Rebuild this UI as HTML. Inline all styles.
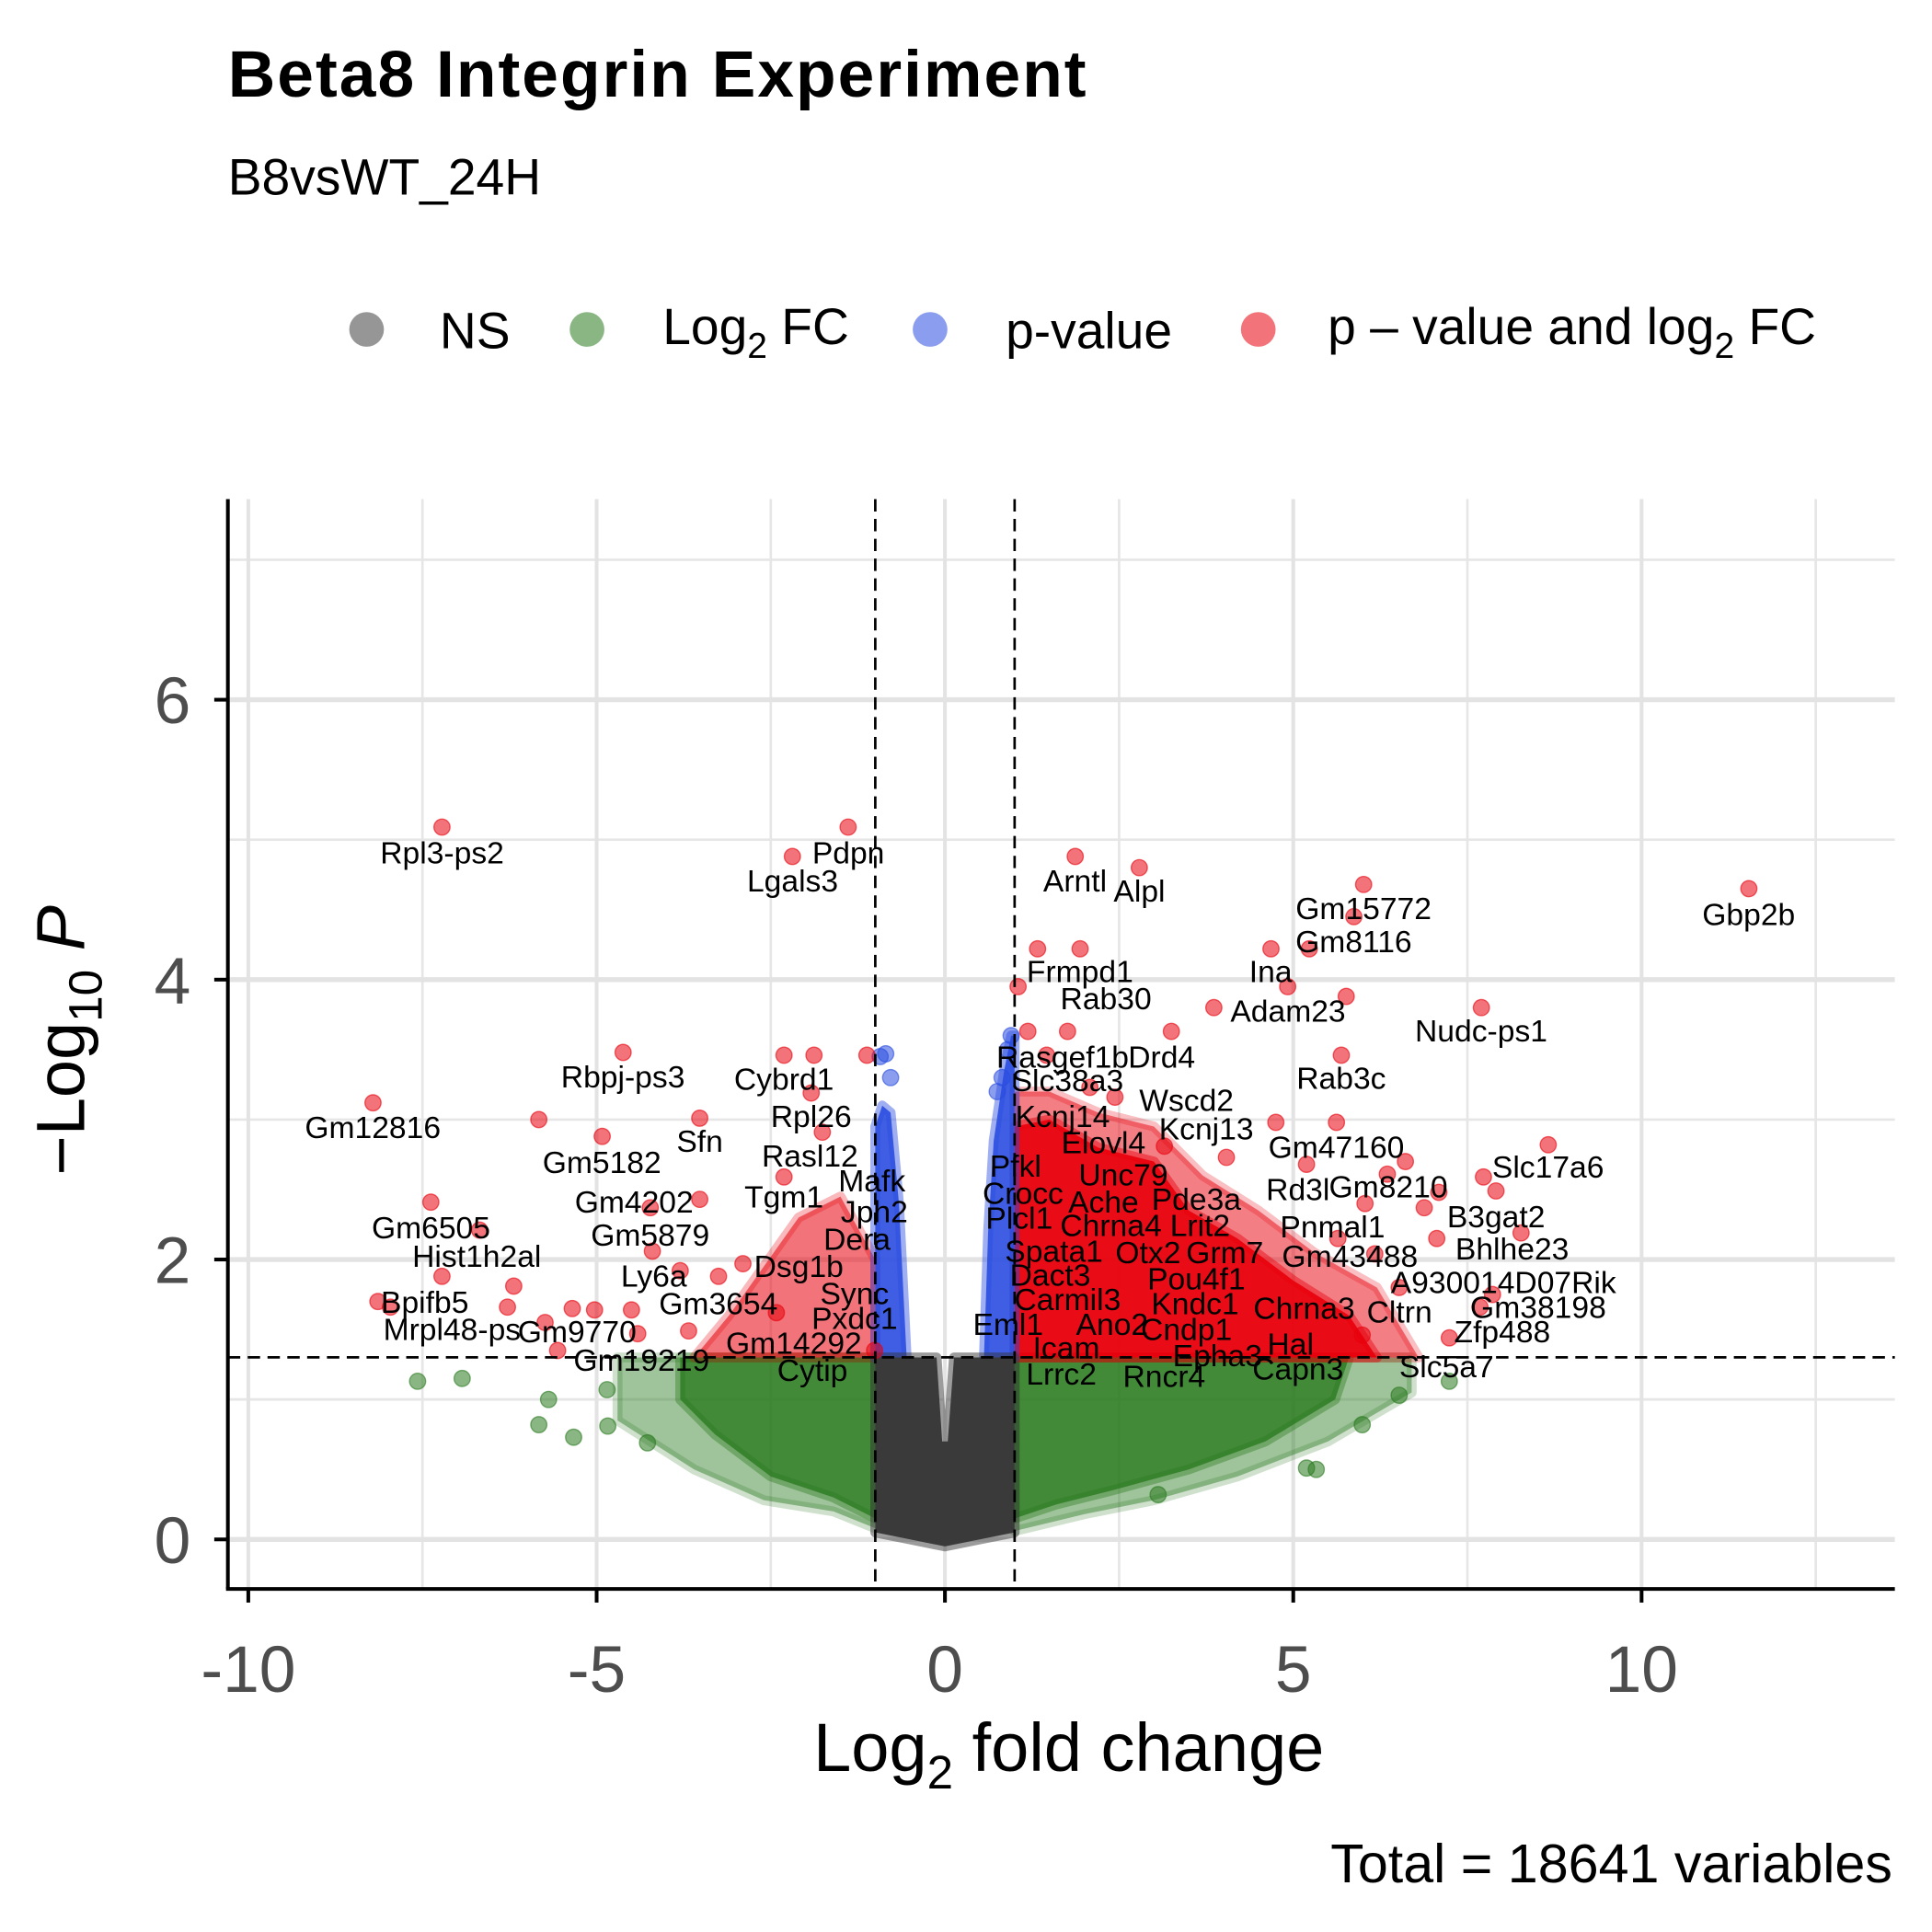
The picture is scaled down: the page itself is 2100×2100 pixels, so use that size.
<!DOCTYPE html>
<html><head><meta charset="utf-8"><style>
html,body{margin:0;padding:0;background:#fff}
svg{display:block;font-family:"Liberation Sans",Arial,sans-serif}
</style></head><body>
<svg id="chart" width="2100" height="2100" viewBox="0 0 1560 1560" xmlns="http://www.w3.org/2000/svg">
<rect width="1560" height="1560" fill="#fff"/>
<text x="184" y="78" font-size="53" font-weight="bold" textLength="693">Beta8 Integrin Experiment</text>
<text x="184" y="157" font-size="41">B8vsWT_24H</text>
<g font-size="41">
 <g><circle cx="296" cy="266" r="14" fill="#404040" fill-opacity="0.55"/><text x="355" y="281">NS</text></g>
 <g><circle cx="474" cy="266" r="14" fill="#2a7a1f" fill-opacity="0.55"/><text x="535" y="278">Log<tspan font-size="29" dy="11">2</tspan><tspan dy="-11"> FC</tspan></text></g>
 <g><circle cx="751" cy="266" r="14" fill="#2a4de0" fill-opacity="0.55"/><text x="812" y="281">p-value</text></g>
 <g><circle cx="1016" cy="266" r="14" fill="#e8000b" fill-opacity="0.55"/><text x="1072" y="278">p – value and log<tspan font-size="29" dy="11">2</tspan><tspan dy="-11"> FC</tspan></text></g>
</g>
<g id="grid"></g>
<g id="masses"></g>
<g id="points"></g>
<g id="thresholds"></g>
<g id="labels" font-size="25" text-anchor="middle"></g>
<g id="axes"></g>
<text x="863" y="1430" font-size="55" text-anchor="middle">Log<tspan font-size="38" dy="14">2</tspan><tspan dy="-14"> fold change</tspan></text>
<text transform="translate(68,840) rotate(-90)" font-size="55" text-anchor="middle">−Log<tspan font-size="38" dy="14">10</tspan><tspan dy="-14" font-style="italic"> P</tspan></text>
<text x="1528" y="1520" font-size="44" text-anchor="end">Total = 18641 variables</text>
<script>
const xTicks=[-10,-5,0,5,10];
const yTicks=[0,2,4,6];
const xMinor=[-7.5,-2.5,2.5,7.5,12.5];
const yMinor=[1,3,5,7];
const fcCut=[-1,1];
const pCut=1.301;
const redX=[-7.22,-1.39,-2.19,1.87,2.79,6.01,5.87,11.54,4.68,5.23,1.33,1.94,1.05,4.92,5.76,3.86,7.7,1.76,3.25,5.69,-4.62,-2.31,-1.88,-1.12,-1.92,-8.21,-5.83,-3.52,-4.92,-1.76,5.62,4.75,8.66,6.61,7.73,7.91,7.09,-7.38,-3.52,-4.23,-2.31,8.27,6.88,7.06,-6.68,-4.2,-2.9,-7.22,-6.19,-8.14,-7.96,-6.28,-5.35,-5.03,-4.5,-3.8,-3.25,-5.74,-4.41,-3.68,-5.56,7.68,7.86,7.24,5.99,6.52,6.17,5.64,6.35,6.03,5.19,4.04,3.15,2.44,2.08,1.46,1.19,-1.01,-2.42];
const redY=[5.09,5.09,4.88,4.88,4.80,4.68,4.45,4.65,4.22,4.22,4.22,4.22,3.95,3.95,3.88,3.8,3.8,3.63,3.63,3.46,3.48,3.46,3.46,3.46,3.19,3.12,3.0,3.01,2.88,2.91,2.98,2.98,2.82,2.7,2.59,2.49,2.48,2.41,2.43,2.37,2.59,2.19,2.37,2.15,2.21,2.06,1.97,1.88,1.81,1.7,1.66,1.66,1.65,1.64,1.64,1.92,1.88,1.55,1.47,1.49,1.35,1.66,1.75,1.44,1.46,1.8,2.04,2.15,2.61,2.4,2.68,2.73,2.81,3.16,3.23,3.46,3.63,1.35,1.62];
const greenX=[-7.57,-6.93,-5.83,-5.33,-4.84,-5.69,-4.85,-4.27,5.19,5.33,7.24,6.52,5.99,3.06];
const greenY=[1.13,1.15,0.82,0.73,0.81,1.0,1.07,0.69,0.51,0.5,1.13,1.03,0.82,0.32];
const blueX=[-0.93,-0.85,-0.78,0.95,0.9,0.82,0.75];
const blueY=[3.45,3.47,3.3,3.6,3.5,3.3,3.2];
const genes=["Rpl3-ps2","Pdpn","Lgals3","Arntl","Alpl","Gm15772","Gm8116","Gbp2b","Frmpd1","Ina","Rab30","Adam23","Nudc-ps1","Rasgef1b","Drd4","Slc38a3","Rab3c","Rbpj-ps3","Cybrd1","Gm12816","Wscd2","Kcnj14","Kcnj13","Rpl26","Sfn","Elovl4","Gm47160","Gm5182","Rasl12","Slc17a6","Pfkl","Unc79","Mafk","Gm8210","Rd3l","Crocc","Tgm1","Gm4202","Ache","Pde3a","Jph2","B3gat2","Plcl1","Chrna4","Lrit2","Pnmal1","Gm6505","Gm5879","Dera","Hist1h2al","Bhlhe23","Spata1","Otx2","Grm7","Gm43488","Dsg1b","Ly6a","Pou4f1","Dact3","A930014D07Rik","Gm3654","Sync","Carmil3","Kndc1","Chrna3","Gm38198","Cltrn","Bpifb5","Pxdc1","Eml1","Ano2","Cndp1","Zfp488","Mrpl48-ps","Gm9770","Gm14292","Icam","Hal","Epha3","Gm19219","Cytip","Lrrc2","Rncr4","Capn3","Slc5a7"];
const labelPos=[[357,697],[685,697],[640,720],[868,720],[920,728],[1101,742],[1093,769],[1412,747],[872,793],[1026,793],[893,815],[1040,825],[1196,841],[858,862],[938,862],[862,881],[1083,879],[503,878],[633,880],[301,919],[958,897],[858,910],[974,920],[655,910],[565,930],[891,931],[1079,935],[486,947],[654,942],[1250,951],[820,950],[907,957],[704,962],[1121,967],[1048,969],[826,972],[633,975],[512,979],[891,979],[966,977],[706,987],[1208,991],[823,992],[897,998],[969,998],[1076,999],[348,1000],[525,1006],[692,1009],[385,1023],[1221,1017],[851,1019],[927,1020],[989,1020],[1090,1023],[645,1031],[528,1039],[966,1041],[848,1038],[1214,1044],[580,1061],[690,1053],[862,1058],[965,1061],[1053,1065],[1242,1064],[1130,1068],[343,1060],[690,1073],[814,1078],[898,1078],[958,1082],[1213,1084],[365,1082],[466,1084],[641,1093],[861,1097],[1042,1094],[983,1103],[518,1107],[656,1115],[857,1118],[940,1120],[1048,1114],[1168,1112]];
const regions=[
 {name:"green-left-outer",c:"#2a7a1f",o:0.45,pts:[[-4.7,1.3],[-1,1.3],[-1,0.08],[-1.6,0.2],[-2.6,0.28],[-3.6,0.5],[-4.7,0.85]]},
 {name:"green-left-mass",c:"#2a7a1f",o:0.8,pts:[[-3.8,1.3],[-1,1.3],[-1,0.15],[-1.6,0.3],[-2.5,0.45],[-3.3,0.75],[-3.8,1.0]]},
 {name:"green-right-outer",c:"#2a7a1f",o:0.45,pts:[[1,1.3],[6.7,1.3],[6.7,1.05],[5.5,0.7],[4.2,0.45],[3,0.28],[2,0.18],[1,0.06]]},
 {name:"green-right-mass",c:"#2a7a1f",o:0.8,pts:[[1,1.3],[5.8,1.3],[5.6,1.0],[4.6,0.7],[3.5,0.5],[2.4,0.35],[1.6,0.25],[1,0.15]]},
 {name:"red-right-outer",c:"#e8000b",o:0.5,pts:[[1,1.3],[1,3.2],[1.5,3.2],[2.2,3.05],[3,2.95],[3.7,2.6],[4.5,2.35],[5.3,2.05],[6.2,1.8],[6.8,1.3]]},
 {name:"red-right-mass",c:"#e8000b",o:0.9,pts:[[1,1.3],[1,2.95],[1.5,3.0],[2.2,2.8],[3,2.7],[3.5,2.35],[4.2,2.15],[5,1.85],[5.8,1.6],[6.2,1.3]]},
 {name:"red-left-mass",c:"#e8000b",o:0.55,pts:[[-1,1.3],[-1,2.0],[-1.5,2.45],[-2.1,2.3],[-2.6,1.95],[-3.1,1.6],[-3.6,1.3]]},
 {name:"blue-left-mass",c:"#2a4de0",o:0.9,pts:[[-1,1.3],[-1,2.95],[-0.9,3.1],[-0.78,3.05],[-0.66,2.4],[-0.6,1.8],[-0.55,1.3]]},
 {name:"blue-right-mass",c:"#2a4de0",o:0.9,pts:[[0.56,1.3],[0.62,2.2],[0.7,2.85],[0.85,3.35],[0.95,3.6],[1,3.6],[1,1.3]]},
 {name:"ns-mass",c:"#3a3a3a",o:1,pts:[[-1,1.3],[-0.12,1.3],[-0.04,0.7],[0.04,0.7],[0.13,1.3],[1,1.3],[1,0.05],[0.5,0.0],[0,-0.05],[-0.5,0.0],[-1,0.05]]}
];
const NS="http://www.w3.org/2000/svg";
const X=v=>763+v*56.25, Y=v=>1243-v*113;
const L=184,R=1530,T=403,B=1283;
function mk(tag,attrs,parent){const e=document.createElementNS(NS,tag);for(const k in attrs)e.setAttribute(k,attrs[k]);parent.appendChild(e);return e;}
const grid=document.getElementById('grid');
yMinor.forEach(v=>{const e=mk('line',{x1:L,x2:R,y1:Y(v),y2:Y(v),stroke:'#e6e6e6','stroke-width':2},grid);});
xMinor.forEach(v=>{const e=mk('line',{x1:X(v),x2:X(v),y1:T,y2:B,stroke:'#e6e6e6','stroke-width':2},grid);});
yTicks.forEach(v=>{const e=mk('line',{x1:L,x2:R,y1:Y(v),y2:Y(v),stroke:'#e3e3e3','stroke-width':4},grid);});
xTicks.forEach(v=>{const e=mk('line',{x1:X(v),x2:X(v),y1:T,y2:B,stroke:'#e3e3e3','stroke-width':3},grid);});
const masses=document.getElementById('masses');
regions.forEach(r=>{const e=mk('polygon',{points:r.pts.map(p=>X(p[0])+','+Y(p[1])).join(' '),fill:r.c,'fill-opacity':r.o,stroke:r.c,'stroke-opacity':r.o*0.5,'stroke-width':8,'stroke-linejoin':'round'},masses);});
const pts=document.getElementById('points');
function dots(xs,ys,col,name){xs.forEach((x,i)=>{const e=mk('circle',{cx:X(x),cy:Y(ys[i]),r:6.5,fill:col,'fill-opacity':0.55,stroke:col,'stroke-opacity':0.6,'stroke-width':1},pts);});}
dots(greenX,greenY,'#2a7a1f','point-log2fc');
dots(blueX,blueY,'#2a4de0','point-pvalue');
dots(redX,redY,'#e8000b','point-significant');
const th=document.getElementById('thresholds');
fcCut.forEach(v=>{const e=mk('line',{x1:X(v),x2:X(v),y1:T,y2:B,stroke:'#000','stroke-width':2,'stroke-dasharray':'10,6'},th);});
{const e=mk('line',{x1:L,x2:R,y1:Y(pCut),y2:Y(pCut),stroke:'#000','stroke-width':2,'stroke-dasharray':'10,6'},th);}
const lab=document.getElementById('labels');
genes.forEach((g,i)=>{const e=mk('text',{x:labelPos[i][0],y:labelPos[i][1]},lab);e.textContent=g;});
const ax=document.getElementById('axes');
{const e=mk('line',{x1:L,x2:L,y1:T,y2:B,stroke:'#000','stroke-width':3},ax);}
{const e=mk('line',{x1:L-1.5,x2:R,y1:B,y2:B,stroke:'#000','stroke-width':3},ax);}
yTicks.forEach(v=>{const e=mk('line',{x1:L-11,x2:L,y1:Y(v),y2:Y(v),stroke:'#000','stroke-width':3},ax);
 const t=mk('text',{x:L-30,y:Y(v)+19,'font-size':53,'text-anchor':'end',fill:'#4d4d4d'},ax);t.textContent=v;});
xTicks.forEach(v=>{const e=mk('line',{x1:X(v),x2:X(v),y1:B,y2:B+11,stroke:'#000','stroke-width':3},ax);
 const t=mk('text',{x:X(v),y:1366,'font-size':53,'text-anchor':'middle',fill:'#4d4d4d'},ax);t.textContent=v;});
</script>
</svg>
</body></html>
